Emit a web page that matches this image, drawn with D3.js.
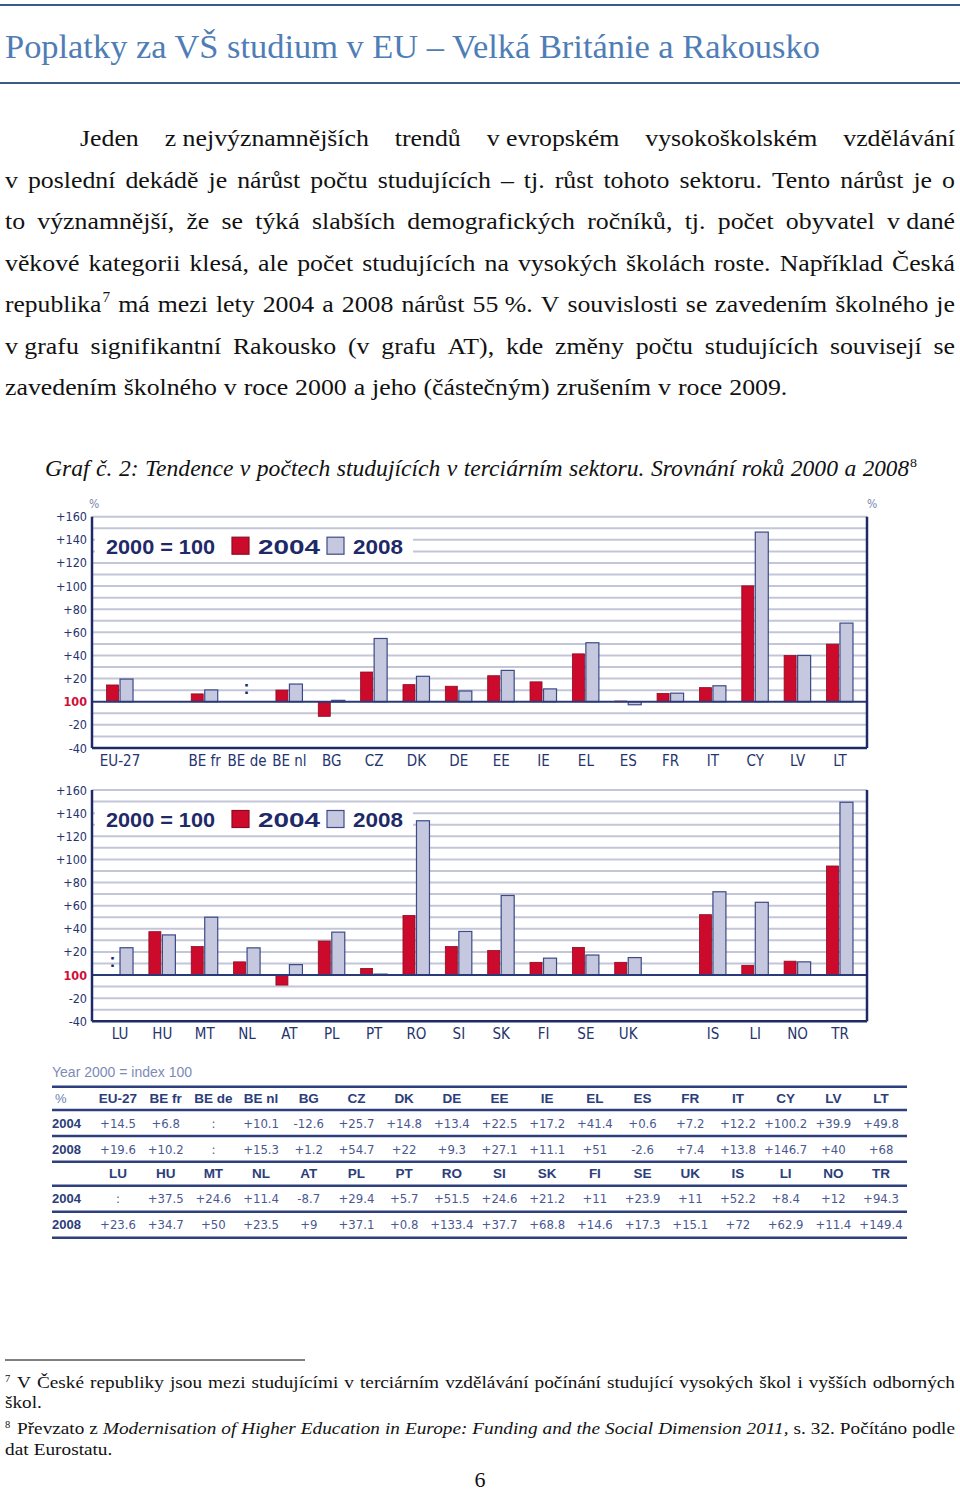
<!DOCTYPE html>
<html><head><meta charset="utf-8">
<script src="https://cdn.jsdelivr.net/npm/d3@7"></script>
<style>
html,body{margin:0;padding:0;background:#fff;}
svg{display:block;}
</style></head><body>
<svg id="page" width="960" height="1491"></svg>
<script>
// ---------------- data ----------------
const titleText = "Poplatky za VŠ studium v EU – Velká Británie a Rakousko";
const bodyLines = [
  "Jeden z\u00a0nejvýznamnějších trendů v\u00a0evropském vysokoškolském vzdělávání",
  "v poslední dekádě je nárůst počtu studujících – tj. růst tohoto sektoru. Tento nárůst je o",
  "to významnější, že se týká slabších demografických ročníků, tj. počet obyvatel v\u00a0dané",
  "věkové kategorii klesá, ale počet studujících na vysokých školách roste. Například Česká",
  "republika^7 má mezi lety 2004 a 2008 nárůst 55\u00a0%. V souvislosti se zavedením školného je",
  "v\u00a0grafu signifikantní Rakousko (v grafu AT), kde změny počtu studujících souvisejí se",
  "zavedením školného v roce 2000 a jeho (částečným) zrušením v roce 2009."
];
const captionText = "Graf č. 2: Tendence v počtech studujících v terciárním sektoru. Srovnání roků 2000 a 2008^8";

const countriesA = ["EU-27","BE fr","BE de","BE nl","BG","CZ","DK","DE","EE","IE","EL","ES","FR","IT","CY","LV","LT"];
const valuesA2004 = [14.5, 6.8, null, 10.1, -12.6, 25.7, 14.8, 13.4, 22.5, 17.2, 41.4, 0.6, 7.2, 12.2, 100.2, 39.9, 49.8];
const valuesA2008 = [19.6, 10.2, null, 15.3, 1.2, 54.7, 22, 9.3, 27.1, 11.1, 51, -2.6, 7.4, 13.8, 146.7, 40, 68];
const gapAfterA = "EU-27";

const countriesB = ["LU","HU","MT","NL","AT","PL","PT","RO","SI","SK","FI","SE","UK","IS","LI","NO","TR"];
const valuesB2004 = [null, 37.5, 24.6, 11.4, -8.7, 29.4, 5.7, 51.5, 24.6, 21.2, 11, 23.9, 11, 52.2, 8.4, 12, 94.3];
const valuesB2008 = [23.6, 34.7, 50, 23.5, 9, 37.1, 0.8, 133.4, 37.7, 68.8, 14.6, 17.3, 15.1, 72, 62.9, 11.4, 149.4];
const gapAfterB = "UK";

const seriesNames = ["2004", "2008"];
const legendBase = "2000 = 100";
const yTickValues = [160, 140, 120, 100, 80, 60, 40, 20, 0, -20, -40];
const yTickLabels = ["+160","+140","+120","+100","+80","+60","+40","+20","100","-20","-40"];
const tableNote = "Year 2000 = index 100";

const footnote7 = ["V České republiky jsou mezi studujícími v terciárním vzdělávání počínání studující vysokých škol i vyšších odborných", "škol."];
const footnote8 = ["Převzato z ~Modernisation ~of ~Higher ~Education ~in ~Europe: ~Funding ~and ~the ~Social ~Dimension ~2011, s. 32. Počítáno podle", "dat Eurostatu."];
const pageNumber = "6";

// ---------------- helpers ----------------
const svg = d3.select("#page");
const serif = "'Liberation Serif','DejaVu Serif',serif";
const cond = "'Liberation Sans Narrow','DejaVu Sans Condensed','Arial Narrow','Liberation Sans',sans-serif";
const sans = "'Liberation Sans','DejaVu Sans',sans-serif";
const navy = "#1e2a68";

function setLine(g, line, x0, x1, y, o) {
  const size = o.size;
  const k = o.stretch || 1;
  const toks = line.split(" ");
  const items = toks.map(t => {
    const ital = o.italic || t.startsWith("~");
    const s = t.replace(/^~/, "");
    const txt = g.append("text").attr("y", y)
      .attr("font-family", o.family || serif).attr("font-size", size)
      .attr("font-style", ital ? "italic" : "normal")
      .attr("fill", o.fill || "#111");
    const parts = s.split("^");
    txt.append("tspan").text(parts[0]);
    if (parts[1] !== undefined) {
      txt.append("tspan").attr("dx", 1).attr("dy", -size * 0.4).attr("font-size", size * 0.6).attr("font-style", "normal").text(parts[1]);
    }
    let w = txt.node().getComputedTextLength();
    if (k !== 1) { w *= k; txt.attr("textLength", w).attr("lengthAdjust", "spacingAndGlyphs"); }
    return {txt, w};
  });
  const sum = d3.sum(items, d => d.w);
  const gap = (o.justify && items.length > 1) ? (x1 - x0 - sum) / (items.length - 1) : size * 0.27 * k;
  let x = x0;
  items.forEach(d => { d.txt.attr("x", x); x += d.w + gap; });
}

// ---------------- header ----------------
svg.append("line").attr("x1", 0).attr("x2", 960).attr("y1", 5).attr("y2", 5).attr("stroke", "#3d5a86").attr("stroke-width", 2);
svg.append("line").attr("x1", 0).attr("x2", 960).attr("y1", 83).attr("y2", 83).attr("stroke", "#3d5a86").attr("stroke-width", 2);
const title = svg.append("text").attr("x", 5).attr("y", 58)
  .attr("font-family", serif).attr("font-size", 32).attr("fill", "#4f7db6").text(titleText);
{
  const w = title.node().getComputedTextLength();
  title.attr("font-size", 32 * 815 / w);
}

// ---------------- body ----------------
const body = svg.append("g");
bodyLines.forEach((ln, i) => {
  const last = i === bodyLines.length - 1;
  setLine(body, ln, i === 0 ? 80 : 5, 955, 146 + i * 41.5, {size: 24, justify: !last, stretch: 1.075});
});
setLine(svg.append("g"), captionText, 45, 917, 476, {size: 22.5, italic: true, justify: true, stretch: 1.05});

// ---------------- charts ----------------
function drawChart(top, cats, v04, v08, gapAfter, showPct) {
  const g = svg.append("g");
  const left = 92, right = 867;
  const y = d3.scaleLinear().domain([-40, 160]).range([top + 231.3, top]);
  const slots = [];
  cats.forEach(c => { slots.push(c); if (c === gapAfter) slots.push("_gap"); });
  const x = d3.scalePoint().domain(slots).range([left, right]).padding(0.65);

  // gridlines
  g.append("g").selectAll("line").data(d3.range(-30, 161, 10).filter(v => v !== 0))
    .join("line").attr("x1", left).attr("x2", right)
    .attr("y1", d => y(d)).attr("y2", d => y(d))
    .attr("stroke", "#c3c6d7").attr("stroke-width", 2);

  // legend
  const lg = g.append("g");
  lg.append("rect").attr("x", 95).attr("y", top + 16).attr("width", 318).attr("height", 27).attr("fill", "#fff");
  lg.append("text").attr("x", 106).attr("y", top + 37).attr("font-family", sans).attr("font-weight", "bold")
    .attr("font-size", 20).attr("fill", navy).attr("textLength", 109).attr("lengthAdjust", "spacingAndGlyphs").text(legendBase);
  const legItems = [{x: 232, tx: 258, tw: 62, fill: "#cc0a2c", stroke: "#8c0b22"}, {x: 327, tx: 353, tw: 50, fill: "#c6c8e0", stroke: "#3c4a86"}];
  legItems.forEach((d, i) => {
    lg.append("rect").attr("x", d.x).attr("y", top + 20.5).attr("width", 17).attr("height", 17)
      .attr("fill", d.fill).attr("stroke", d.stroke).attr("stroke-width", 1.2);
    lg.append("text").attr("x", d.tx).attr("y", top + 37).attr("font-family", sans).attr("font-weight", "bold")
      .attr("font-size", 20).attr("fill", navy).attr("textLength", d.tw).attr("lengthAdjust", "spacingAndGlyphs").text(seriesNames[i]);
  });

  // bars
  const data = cats.map((c, i) => ({c, a: v04[i], b: v08[i]}));
  const bars = g.append("g");
  bars.selectAll("rect.r").data(data.filter(d => d.a != null)).join("rect").attr("class", "r")
    .attr("x", d => x(d.c) - 13).attr("width", 12)
    .attr("y", d => Math.min(y(d.a), y(0))).attr("height", d => Math.abs(y(d.a) - y(0)))
    .attr("fill", "#cc0a2c").attr("stroke", "#8c0b22").attr("stroke-width", 0.8);
  bars.selectAll("rect.g").data(data.filter(d => d.b != null)).join("rect").attr("class", "g")
    .attr("x", d => x(d.c) + 0.5).attr("width", 13)
    .attr("y", d => Math.min(y(d.b), y(0))).attr("height", d => Math.abs(y(d.b) - y(0)))
    .attr("fill", "#c6c8e0").attr("stroke", "#3c4a86").attr("stroke-width", 1.2);
  // missing markers
  bars.selectAll("text.na").data(data.filter(d => d.a == null || d.b == null)).join("text").attr("class", "na")
    .attr("x", d => (d.a == null && d.b == null) ? x(d.c) : (d.a == null ? x(d.c) - 7 : x(d.c) + 7))
    .attr("y", y(7)).attr("text-anchor", "middle").attr("font-family", sans).attr("font-weight", "bold")
    .attr("font-size", 18).attr("fill", navy).text(":");

  // axes frame
  g.append("line").attr("x1", left).attr("x2", right).attr("y1", y(0)).attr("y2", y(0)).attr("stroke", "#2a3a78").attr("stroke-width", 2);
  g.append("line").attr("x1", left).attr("x2", left).attr("y1", y(160)).attr("y2", y(-40)).attr("stroke", navy).attr("stroke-width", 2.5);
  g.append("line").attr("x1", right).attr("x2", right).attr("y1", y(160)).attr("y2", y(-40)).attr("stroke", navy).attr("stroke-width", 2.5);
  g.append("line").attr("x1", left).attr("x2", right).attr("y1", y(-40)).attr("y2", y(-40)).attr("stroke", navy).attr("stroke-width", 2.5);

  // y axis labels
  const ya = g.append("g").attr("transform", `translate(${left - 4},0)`)
    .call(d3.axisLeft(y).tickValues(yTickValues).tickSize(0).tickPadding(1)
      .tickFormat(d => yTickLabels[yTickValues.indexOf(d)]));
  ya.select(".domain").remove();
  ya.selectAll("text").attr("font-family", cond).attr("font-size", 12.5).attr("fill", "#27336e")
    .filter(d => d === 0).attr("fill", "#d0103a").attr("font-weight", "bold");

  // x axis labels
  const xa = g.append("g").attr("transform", `translate(0,${y(-40)})`)
    .call(d3.axisBottom(x).tickSize(0).tickPadding(7).tickFormat(d => d === "_gap" ? "" : d));
  xa.select(".domain").remove();
  xa.selectAll("text").attr("font-family", cond).attr("font-size", 15).attr("fill", "#26346e");

  if (showPct) {
    g.append("text").attr("x", 89).attr("y", top - 9).attr("font-family", cond).attr("font-size", 12).attr("fill", "#7a86b0").text("%");
    g.append("text").attr("x", 867).attr("y", top - 9).attr("font-family", cond).attr("font-size", 12).attr("fill", "#7a86b0").text("%");
  }
}
drawChart(516.7, countriesA, valuesA2004, valuesA2008, gapAfterA, true);
drawChart(790, countriesB, valuesB2004, valuesB2008, gapAfterB, false);

// ---------------- table ----------------
const tg = svg.append("g");
tg.append("text").attr("x", 52).attr("y", 1077).attr("font-family", sans).attr("font-size", 14).attr("fill", "#7d8bb5").text(tableNote);
const ruleYs = [1086.7, 1110, 1136, 1161.7, 1185.7, 1211.7, 1237.7];
tg.selectAll("line").data(ruleYs).join("line").attr("x1", 52).attr("x2", 907)
  .attr("y1", d => d).attr("y2", d => d).attr("stroke", "#2d3f7c").attr("stroke-width", 2.5);
const col = d3.scalePoint().domain(d3.range(17)).range([118, 881]);
const fmt = v => v == null ? ":" : (v > 0 ? "+" : "") + v;
const blocks = [
  {head: countriesA, r1: valuesA2004, r2: valuesA2008, y: 1103, corner: "%"},
  {head: countriesB, r1: valuesB2004, r2: valuesB2008, y: 1178, corner: ""}
];
blocks.forEach(b => {
  tg.append("text").attr("x", 55).attr("y", b.y).attr("font-family", sans).attr("font-size", 13).attr("fill", "#7080b0").text(b.corner);
  tg.append("g").selectAll("text").data(b.head).join("text")
    .attr("x", (d, i) => col(i)).attr("y", b.y).attr("text-anchor", "middle")
    .attr("font-family", sans).attr("font-weight", "bold").attr("font-size", 13.5).attr("fill", "#2b3d7a").text(d => d);
  [[b.r1, 25, seriesNames[0]], [b.r2, 51, seriesNames[1]]].forEach(([vals, dy, lab]) => {
    tg.append("text").attr("x", 52).attr("y", b.y + dy).attr("font-family", sans).attr("font-weight", "bold")
      .attr("font-size", 13).attr("fill", "#2b3d7a").text(lab);
    tg.append("g").selectAll("text").data(vals).join("text")
      .attr("x", (d, i) => col(i)).attr("y", b.y + dy).attr("text-anchor", "middle")
      .attr("font-family", cond).attr("font-size", 13).attr("fill", "#4a5890").text(fmt);
  });
});

// ---------------- footnotes ----------------
const fg = svg.append("g");
fg.append("line").attr("x1", 5).attr("x2", 305).attr("y1", 1360).attr("y2", 1360).attr("stroke", "#000").attr("stroke-width", 1);
fg.append("text").attr("x", 5).attr("y", 1382).attr("font-family", serif).attr("font-size", 10.5).attr("fill", "#111").text("7");
setLine(fg, footnote7[0], 17, 955, 1388, {size: 17.5, justify: true, stretch: 1.1});
setLine(fg, footnote7[1], 5, 955, 1408, {size: 17.5, justify: false, stretch: 1.1});
fg.append("text").attr("x", 5).attr("y", 1428).attr("font-family", serif).attr("font-size", 10.5).attr("fill", "#111").text("8");
setLine(fg, footnote8[0], 17, 955, 1434, {size: 17.5, justify: true, stretch: 1.1});
setLine(fg, footnote8[1], 5, 955, 1455, {size: 17.5, justify: false, stretch: 1.1});
fg.append("text").attr("x", 480).attr("y", 1487).attr("text-anchor", "middle").attr("font-family", serif).attr("font-size", 22).attr("fill", "#111").text(pageNumber);
</script>
</body></html>
